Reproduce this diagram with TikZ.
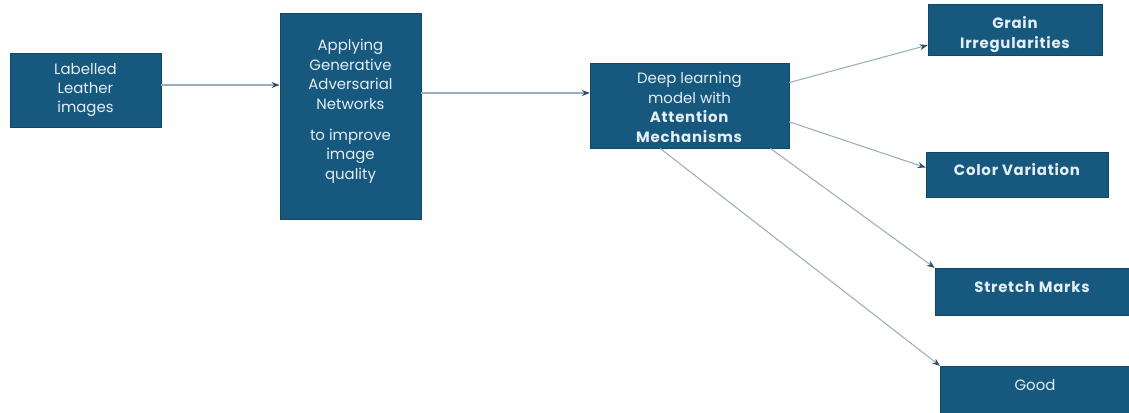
\documentclass[tikz,border=0pt]{standalone}
\usepackage{fontspec}
\setmainfont{Poppins}[BoldFeatures={LetterSpace=5}]
\usetikzlibrary{arrows.meta}
\definecolor{boxblue}{HTML}{17587E}
\definecolor{boxtext}{HTML}{E4EEF5}
\definecolor{linkgray}{HTML}{9AAFBD}
\definecolor{tipblue}{HTML}{2E4F6A}
\tikzset{stagebox/.style={draw=boxblue!80!black, fill=boxblue, text=boxtext, align=center, inner sep=2pt, font=\fontsize{11.2}{14.6}\selectfont},
         leafbox/.style={stagebox, font=\fontsize{11.2}{14.6}\selectfont\bfseries},
         lifted/.style={text height=9pt, text depth=8pt},
         link/.style={draw=linkgray, line width=0.8pt, -{Stealth[length=6pt, width=4.5pt, color=tipblue]}}}

\begin{document}
\begin{tikzpicture}[x=0.75pt, y=-0.75pt]
    \useasboundingbox (0,0) rectangle (1129,412);
    \node [stagebox, minimum width=113pt, minimum height=55.5pt] (images) at (85.5,90) {Labelled\\Leather\\images};
    \node [stagebox, text depth=10pt, minimum width=106pt, minimum height=154.5pt] (gan) at (350.5,116) {Applying\\Generative\\Adversarial\\Networks\\[9pt]to improve\\image\\quality};
    \node [stagebox, text height=55pt, minimum width=149pt, minimum height=64pt] (model) at (689.5,105.5) {Deep learning\\model with\\\textbf{Attention}\\\textbf{Mechanisms}};
    \node [leafbox, text height=31pt, minimum width=130.5pt, minimum height=34pt] (grain) at (1015,29.5) {Grain\\Irregularities};
    \node [leafbox, lifted, minimum width=136.5pt, minimum height=34pt] (color) at (1017,174.5) {Color Variation};
    \node [leafbox, lifted, minimum width=145.5pt, minimum height=35pt] (stretch) at (1032,291.5) {Stretch Marks};
    \node [stagebox, lifted, minimum width=142pt, minimum height=35pt] (good) at (1035,389.5) {Good};
    \draw [link] (images.east |- 0,85) -- (gan.west |- 0,85);
    \draw [link] (gan.east |- 0,93) -- (model.west |- 0,93);
    \draw [link] ([yshift=-15pt]model.north east) -- ([yshift=7.5pt]grain.south west);
    \draw [link] ([yshift=20pt]model.south east) -- ([yshift=-12pt]color.north west);
    \draw [link] ([xshift=-14pt]model.south east) -- (stretch.north west);
    \draw [link] ([xshift=-22pt]model.south) -- (good.north west);
\end{tikzpicture}
\end{document}
